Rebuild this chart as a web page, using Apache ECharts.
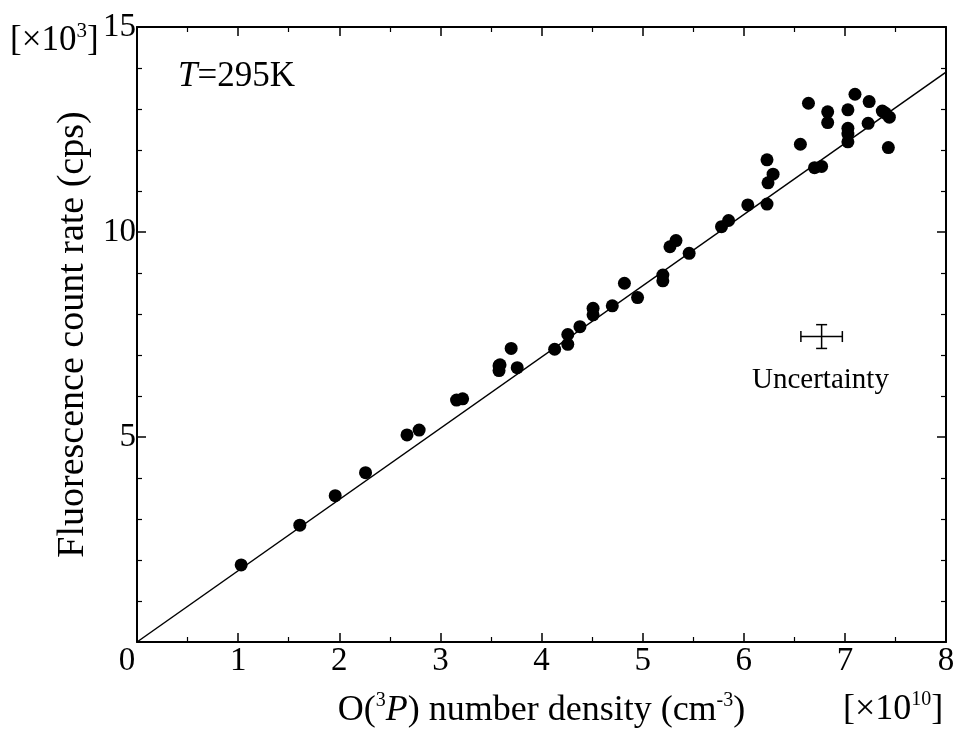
<!DOCTYPE html>
<html>
<head>
<meta charset="utf-8">
<script src="https://cdn.jsdelivr.net/npm/echarts@6/dist/echarts.min.js"></script>
<style>
  html, body { margin: 0; padding: 0; background: #fff; }
  #main { width: 958px; height: 731px; }
</style>
</head>
<body>
<div id="main"></div>
<script>
// O(3P) number density [x10^10 cm^-3]
var densX = [1.03, 1.61, 1.96, 2.26, 2.67, 2.79, 3.16, 3.22, 3.58, 3.58, 3.59, 3.70, 3.76,
  4.13, 4.26, 4.26, 4.38, 4.51, 4.51, 4.70, 4.82, 4.95, 5.20, 5.20, 5.27, 5.33, 5.46,
  5.78, 5.85, 6.04, 6.23, 6.24, 6.23, 6.29, 6.56, 6.64, 6.70, 6.77, 6.83, 6.83,
  7.03, 7.03, 7.03, 7.03, 7.10, 7.23, 7.24, 7.37, 7.40, 7.44, 7.43];
// fluorescence count rate [x10^3 cps]
var countY = [1.88, 2.85, 3.57, 4.13, 5.05, 5.17, 5.90, 5.93, 6.74, 6.62, 6.76, 7.16, 6.69,
  7.14, 7.50, 7.26, 7.69, 8.14, 7.98, 8.20, 8.75, 8.40, 8.95, 8.81, 9.64, 9.79, 9.48,
  10.13, 10.28, 10.66, 10.68, 11.20, 11.76, 11.41, 12.14, 13.14, 11.57, 11.60, 12.93, 12.67,
  12.98, 12.53, 12.39, 12.20, 13.36, 12.65, 13.18, 12.95, 12.90, 12.80, 12.06];

// linear fit through origin
var fitX = [0, 8];
var fitY = [0, 13.9];

// uncertainty marker: centre and half-widths
var uncCenter = [6.77, 7.45];
var uncErr = [0.205, 0.29];

var serif = 'Liberation Serif';

var chart = echarts.init(document.getElementById('main'));

var pts = densX.map(function (x, i) { return [x, countY[i]]; });
var fitPts = fitX.map(function (x, i) { return [x, fitY[i]]; });

var axisCommon = {
  type: 'value',
  axisLine: { show: true, onZero: false, lineStyle: { color: '#000', width: 2 } },
  axisTick: { show: true, inside: true, length: 9, lineStyle: { color: '#000', width: 1.5 } },
  minorTick: { show: true, length: 5, lineStyle: { color: '#000', width: 1.2 } },
  splitLine: { show: false }
};

var option = {
  animation: false,
  backgroundColor: '#fff',
  grid: { left: 137, right: 12, top: 27, bottom: 89, containLabel: false, outerBoundsMode: 'none' },
  xAxis: [
    Object.assign({}, axisCommon, {
      min: 0, max: 8, interval: 1, position: 'bottom',
      minorTick: Object.assign({}, axisCommon.minorTick, { splitNumber: 2 }),
      axisLabel: {
        color: '#000', fontFamily: serif, fontSize: 33, margin: 3,
        // the shared origin label sits left of the corner
        formatter: function (v) { return v === 0 ? '{z|0}' : String(v); },
        rich: { z: { fontFamily: serif, fontSize: 33, color: '#000', padding: [0, 20, 0, 0] } }
      },
      name: '{n|O(}{sup|3}{it|P}{n|) number density (cm}{sup|-3}{n|)}',
      nameLocation: 'middle',
      nameGap: 49,
      nameTextStyle: {
        rich: {
          n: { fontFamily: serif, fontSize: 36, color: '#000' },
          it: { fontFamily: serif, fontSize: 36, fontStyle: 'italic', color: '#000' },
          sup: { fontFamily: serif, fontSize: 20, color: '#000', padding: [0, 0, 20, 0] }
        }
      }
    }),
    Object.assign({}, axisCommon, {
      min: 0, max: 8, interval: 1, position: 'top',
      minorTick: Object.assign({}, axisCommon.minorTick, { splitNumber: 2 }),
      axisLabel: { show: false }
    })
  ],
  yAxis: [
    Object.assign({}, axisCommon, {
      min: 0, max: 15, interval: 5, position: 'left',
      minorTick: Object.assign({}, axisCommon.minorTick, { splitNumber: 5 }),
      axisLabel: { color: '#000', fontFamily: serif, fontSize: 33, margin: 1, showMinLabel: false },
      name: 'Fluorescence count rate (cps)',
      nameLocation: 'middle',
      nameGap: 44,
      nameTextStyle: { fontFamily: serif, fontSize: 38, color: '#000' }
    }),
    Object.assign({}, axisCommon, {
      min: 0, max: 15, interval: 5, position: 'right',
      minorTick: Object.assign({}, axisCommon.minorTick, { splitNumber: 5 }),
      axisLabel: { show: false }
    })
  ],
  graphic: [
    {
      type: 'text', left: 10, top: 21,
      style: {
        text: '{n|[×10}{sup|3}{n|]}',
        rich: {
          n: { fontFamily: serif, fontSize: 35, fill: '#000' },
          sup: { fontFamily: serif, fontSize: 21, fill: '#000', padding: [0, 0, 18, 0] }
        }
      }
    },
    {
      type: 'text', left: 843, top: 690,
      style: {
        text: '{n|[×10}{sup|10}{n|]}',
        rich: {
          n: { fontFamily: serif, fontSize: 36, fill: '#000' },
          sup: { fontFamily: serif, fontSize: 20, fill: '#000', padding: [0, 0, 20, 0] }
        }
      }
    },
    {
      type: 'text', left: 178, top: 59,
      style: {
        text: '{it|T}{n|=295K}',
        rich: {
          n: { fontFamily: serif, fontSize: 35, fill: '#000' },
          it: { fontFamily: serif, fontSize: 35, fontStyle: 'italic', fill: '#000' }
        }
      }
    },
    {
      type: 'text', left: 752, top: 366,
      style: { text: 'Uncertainty', fontFamily: serif, fontSize: 29, fill: '#000' }
    }
  ],
  series: [
    {
      type: 'line',
      data: fitPts,
      symbol: 'none',
      lineStyle: { color: '#000', width: 1.5 },
      z: 2
    },
    {
      type: 'scatter',
      data: pts,
      symbol: 'circle',
      symbolSize: 13,
      itemStyle: { color: '#000', opacity: 1 },
      z: 3
    },
    {
      type: 'custom',
      data: [[uncCenter[0], uncCenter[1], uncErr[0], uncErr[1]]],
      renderItem: function (params, api) {
        var cx = api.value(0), cy = api.value(1), ex = api.value(2), ey = api.value(3);
        var l = api.coord([cx - ex, cy]);
        var r = api.coord([cx + ex, cy]);
        var t = api.coord([cx, cy + ey]);
        var b = api.coord([cx, cy - ey]);
        var cap = 5.5;
        var st = { stroke: '#000', lineWidth: 1.5 };
        var seg = function (x1, y1, x2, y2) {
          return { type: 'line', shape: { x1: x1, y1: y1, x2: x2, y2: y2 }, style: st };
        };
        return {
          type: 'group',
          children: [
            seg(l[0], l[1], r[0], r[1]),
            seg(l[0], l[1] - cap, l[0], l[1] + cap),
            seg(r[0], r[1] - cap, r[0], r[1] + cap),
            seg(t[0], t[1], b[0], b[1]),
            seg(t[0] - cap, t[1], t[0] + cap, t[1]),
            seg(b[0] - cap, b[1], b[0] + cap, b[1])
          ]
        };
      },
      z: 3
    }
  ]
};

chart.setOption(option);
</script>
</body>
</html>
